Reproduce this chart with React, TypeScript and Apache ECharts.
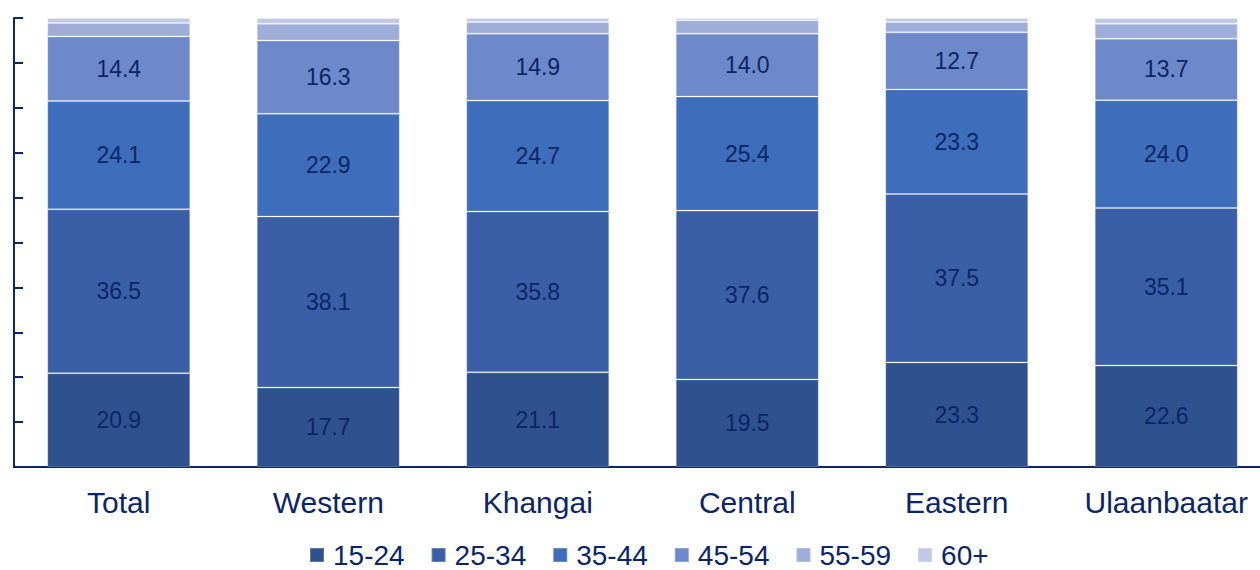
import React, { useEffect, useRef } from "react";
import * as echarts from "echarts";

const categories = ["Total", "Western", "Khangai", "Central", "Eastern", "Ulaanbaatar"];
const ageGroups = ["15-24", "25-34", "35-44", "45-54", "55-59", "60+"];
const s1524 = [20.9, 17.7, 21.1, 19.5, 23.3, 22.6];
const s2534 = [36.5, 38.1, 35.8, 37.6, 37.5, 35.1];
const s3544 = [24.1, 22.9, 24.7, 25.4, 23.3, 24.0];
const s4554 = [14.4, 16.3, 14.9, 14.0, 12.7, 13.7];
const s5559 = [3.0, 3.7, 2.6, 3.0, 2.3, 3.3];
const s60p = [1.1, 1.3, 0.9, 0.5, 0.9, 1.3];
const seriesValues = [s1524, s2534, s3544, s4554, s5559, s60p];
const labelled = [true, true, true, true, false, false];
const colors = ["#2f528f", "#3a5fa7", "#3e6dbc", "#6d89ca", "#9eaed8", "#c0c9e6"];

const NAVY = "#0b2566";
const FONT = "'Liberation Sans', Arial, sans-serif";

export default function App() {
  const ref = useRef<HTMLDivElement>(null);
  useEffect(() => {
    if (!ref.current) return;
    const chart = echarts.init(ref.current, undefined, { renderer: "svg" });
    chart.setOption({
      animation: false,
      color: colors,
      textStyle: { fontFamily: FONT },
      grid: { left: 14, top: 18, right: 1, bottom: 103, containLabel: false },
      legend: {
        data: ageGroups,
        left: 309,
        top: 541,
        padding: 0,
        icon: "rect",
        itemWidth: 14,
        itemHeight: 14,
        itemGap: 26,
        textStyle: {
          color: NAVY,
          fontSize: 28,
          lineHeight: 23,
          fontFamily: FONT,
          padding: [0, 0, 0, 4],
        },
      },
      xAxis: {
        type: "category",
        data: categories,
        axisLine: { show: true, lineStyle: { color: NAVY, width: 2 } },
        axisTick: { show: false },
        axisLabel: { color: NAVY, fontSize: 30, fontFamily: FONT, margin: 20, interval: 0, hideOverlap: false },
      },
      yAxis: {
        type: "value",
        min: 0,
        max: 100,
        interval: 10,
        axisLine: { show: true, lineStyle: { color: NAVY, width: 2 } },
        axisTick: { show: true, inside: true, length: 9, lineStyle: { color: NAVY, width: 2 } },
        axisLabel: { show: false },
        splitLine: { show: false },
      },
      series: ageGroups.map((name, i) => ({
        name,
        type: "bar",
        stack: "total",
        barWidth: 143,
        data: seriesValues[i],
        itemStyle: { color: colors[i], borderColor: "rgba(255,255,255,0.22)", borderWidth: 1 },
        label: {
          show: labelled[i],
          position: "inside",
          color: NAVY,
          fontSize: 23,
          fontFamily: FONT,
          formatter: (p: any) => Number(p.value).toFixed(1),
        },
      })),
    });
    return () => chart.dispose();
  }, []);
  return (
    <div
      style={{ position: "absolute", left: 0, top: 0, width: 1260, height: 570, overflow: "hidden" }}
    >
      <div ref={ref} style={{ width: 1272, height: 570 }} />
    </div>
  );
}
